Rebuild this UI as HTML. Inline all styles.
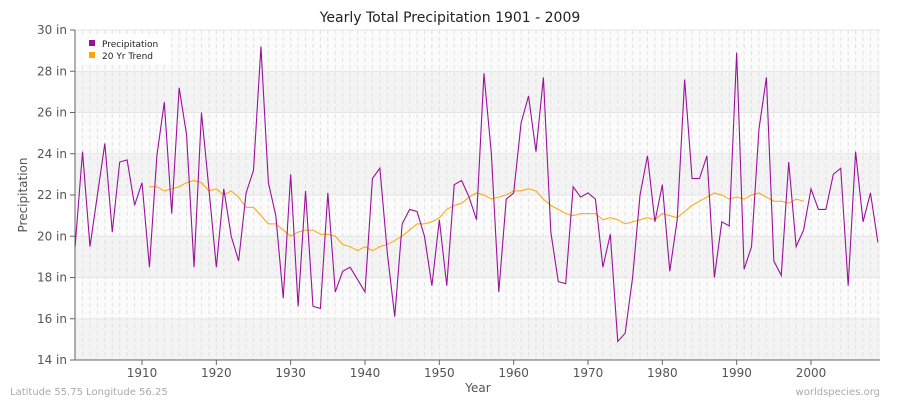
<!DOCTYPE html>
<html><head><meta charset="utf-8"><style>
body{margin:0;background:#fff;font-family:"Liberation Sans",sans-serif}
svg text{font-family:"DejaVu Sans","Liberation Sans",sans-serif}
</style></head><body>
<svg id="c" width="900" height="400" xmlns="http://www.w3.org/2000/svg"></svg>
<script>
const years=[];for(let y=1901;y<=2009;y++)years.push(y);
const precip=[19.5,24.1,19.5,22.0,24.5,20.2,23.6,23.7,21.5,22.6,18.5,23.9,26.5,21.1,27.2,24.9,18.5,26.0,22.3,18.5,22.3,20.0,18.8,22.1,23.2,29.2,22.6,21.0,17.0,23.0,16.6,22.2,16.6,16.5,22.1,17.3,18.3,18.5,17.9,17.3,22.8,23.3,19.2,16.1,20.6,21.3,21.2,20.0,17.6,20.8,17.6,22.5,22.7,21.9,20.8,27.9,24.0,17.3,21.8,22.1,25.5,26.8,24.1,27.7,20.2,17.8,17.7,22.4,21.9,22.1,21.8,18.5,20.1,14.9,15.3,18.0,22.0,23.9,20.7,22.5,18.3,20.8,27.6,22.8,22.8,23.9,18.0,20.7,20.5,28.9,18.4,19.5,25.2,27.7,18.8,18.1,23.6,19.5,20.3,22.3,21.3,21.3,23.0,23.3,17.6,24.1,20.7,22.1,19.7];
const trendStart=1911;
const trend=[22.4,22.4,22.2,22.3,22.4,22.6,22.7,22.6,22.2,22.3,22.0,22.2,21.9,21.4,21.4,21.0,20.6,20.6,20.3,20.0,20.2,20.3,20.3,20.1,20.1,20.0,19.6,19.5,19.3,19.5,19.3,19.5,19.6,19.8,20.0,20.3,20.6,20.6,20.7,20.9,21.3,21.5,21.6,21.9,22.1,22.0,21.8,21.9,22.0,22.2,22.2,22.3,22.2,21.8,21.5,21.3,21.1,21.0,21.1,21.1,21.1,20.8,20.9,20.8,20.6,20.7,20.8,20.9,20.8,21.1,21.0,20.9,21.2,21.5,21.7,21.9,22.1,22.0,21.8,21.9,21.8,22.0,22.1,21.9,21.7,21.7,21.6,21.8,21.7];
const yTicks=[14,16,18,20,22,24,26,28,30];
const xTicks=[1910,1920,1930,1940,1950,1960,1970,1980,1990,2000];
const L=75,R=880,T=30,B=360;
const x=y=>L+(y-1901)*(811-142)/90+0.1;
const yv=v=>B-(v-14)*(B-T)/16;
const svg=document.getElementById('c');const NS='http://www.w3.org/2000/svg';
function mk(t,a,txt){const e=document.createElementNS(NS,t);for(const k in a)e.setAttribute(k,a[k]);if(txt!=null)e.textContent=txt;svg.appendChild(e);return e;}
let e;
for(let i=0;i<yTicks.length-1;i++){const v=yTicks[i];
e=mk('rect',{x:L,y:yv(v+2),width:R-L,height:yv(v)-yv(v+2),fill:(i%2==0)?'#f3f3f3':'#fbfbfb'});

}
for(const y of years){e=mk('line',{x1:x(y),x2:x(y),y1:T,y2:B,stroke:'#e2e2e2','stroke-dasharray':'4,3','stroke-width':1});

}
for(const v of yTicks){e=mk('line',{x1:L,x2:R,y1:yv(v),y2:yv(v),stroke:'#e6e6e6'});


e=mk('line',{x1:L-5,x2:L,y1:yv(v),y2:yv(v),stroke:'#666'});


e=mk('text',{x:L-8,y:yv(v)+4,'text-anchor':'end','font-size':12,fill:'#555'},v+' in');

}
for(const t of xTicks){e=mk('line',{x1:x(t),x2:x(t),y1:B,y2:B+5,stroke:'#666'});


e=mk('text',{x:x(t),y:B+17,'text-anchor':'middle','font-size':12,fill:'#555'},t);

}
e=mk('line',{x1:L,x2:L,y1:T,y2:B,stroke:'#666'});


e=mk('line',{x1:L,x2:R,y1:B,y2:B,stroke:'#666'});


e=mk('polyline',{points:trend.map((v,i)=>x(trendStart+i)+','+yv(v)).join(' '),fill:'none',stroke:'#ffa500','stroke-width':1});


e=mk('polyline',{points:precip.map((v,i)=>x(years[i])+','+yv(v)).join(' '),fill:'none',stroke:'#9b119b','stroke-width':1.1});


e=mk('text',{x:450,y:22,'text-anchor':'middle','font-size':14,fill:'#222'},'Yearly Total Precipitation 1901 - 2009');


e=mk('text',{x:478,y:392,'text-anchor':'middle','font-size':12,fill:'#555'},'Year');


e=mk('text',{x:27,y:195,'text-anchor':'middle','font-size':12,fill:'#555',transform:'rotate(-90 27 195)'},'Precipitation');


e=mk('text',{x:10,y:395,'font-size':10,fill:'#aaa'},'Latitude 55.75 Longitude 56.25');


e=mk('text',{x:880,y:395,'text-anchor':'end','font-size':10,fill:'#aaa'},'worldspecies.org');


e=mk('rect',{x:81,y:34,width:90,height:30,rx:4,fill:'#fff',opacity:0.9});


e=mk('rect',{x:89,y:40,width:6,height:6,fill:'#9b119b'});


e=mk('text',{x:102,y:47,'font-size':9,fill:'#222'},'Precipitation');


e=mk('rect',{x:89,y:52,width:6,height:6,fill:'#ffa500'});


e=mk('text',{x:102,y:59,'font-size':9,fill:'#222'},'20 Yr Trend');


</script>
</body></html>
